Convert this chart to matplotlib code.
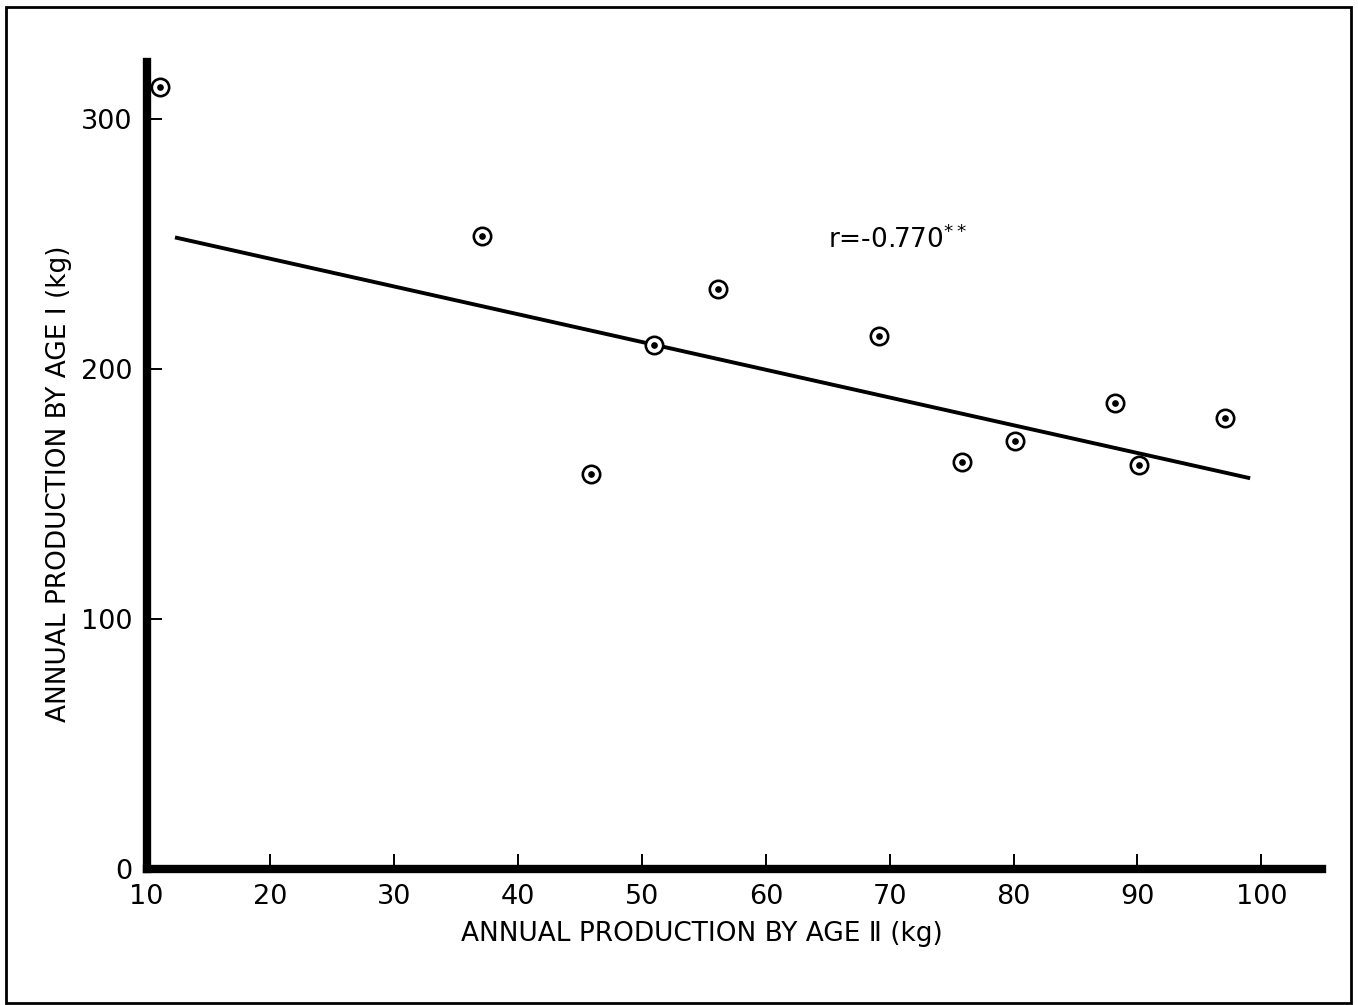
import matplotlib
matplotlib.use("Agg")
import matplotlib.pyplot as plt
from matplotlib.patches import Rectangle

# Data
age2_kg = [11.1, 37.1, 45.9, 51.0, 56.1, 69.1, 75.8, 80.1, 88.2, 90.1, 97.1]
age1_kg = [312.8, 253.2, 158.0, 209.6, 232.0, 213.2, 162.8, 171.2, 186.4, 161.6, 180.4]
fit_x = [12.3, 99.1]
fit_y = [252.8, 156.4]
x_ticks = [10, 20, 30, 40, 50, 60, 70, 80, 90, 100]
y_ticks = [0, 100, 200, 300]
r_text = "r=-0.770"

W, H = 1358, 1005
fig = plt.figure(figsize=(W / 100, H / 100), dpi=100)
plt.rcParams['font.family'] = ['DejaVu Sans']

# figure frame
fig.patches.append(Rectangle((6 / W, 1 - 1003 / H), (1351 - 6) / W, (1003 - 7) / H,
                             transform=fig.transFigure, fill=False,
                             edgecolor='black', linewidth=2.0))

left, right, top, bottom = 146.5, 1322, 62, 869
ax = fig.add_axes([left / W, 1 - bottom / H, (right - left) / W, (bottom - top) / H])
ax.set_xlim(10, 104.9)
ax.set_ylim(0, 323)

for s in ['top', 'right']:
    ax.spines[s].set_visible(False)
for s in ['left', 'bottom']:
    ax.spines[s].set_linewidth(6.0)
    ax.spines[s].set_capstyle('projecting')

ax.set_xticks(x_ticks)
ax.set_yticks(y_ticks)
ax.tick_params(direction='in', length=11, width=1.4, labelsize=19.5, pad=10)
ax.tick_params(axis='x', pad=11)

ax.plot(fit_x, fit_y, color='black', lw=2.8, solid_capstyle='butt')
ax.plot(age2_kg, age1_kg, linestyle='none', marker='o', markersize=12.5,
        markerfacecolor='white', markeredgecolor='black', markeredgewidth=1.9)
ax.plot(age2_kg, age1_kg, linestyle='none', marker='o', markersize=3.8,
        color='black')

ax.text(70.6, 252, r_text + r'$^{**}$', fontsize=19, ha='center', va='center')

ax.set_xlabel('ANNUAL PRODUCTION BY AGE Ⅱ (kg)', fontsize=19)
ax.set_ylabel('ANNUAL PRODUCTION BY AGE Ⅰ (kg)', fontsize=19)
ax.xaxis.set_label_coords((702 - left) / (right - left), -(921 - bottom) / (bottom - top))
ax.yaxis.set_label_coords(-(left - 72) / (right - left), (bottom - 484) / (bottom - top))

fig.savefig('out.png', dpi=100, facecolor='white')
